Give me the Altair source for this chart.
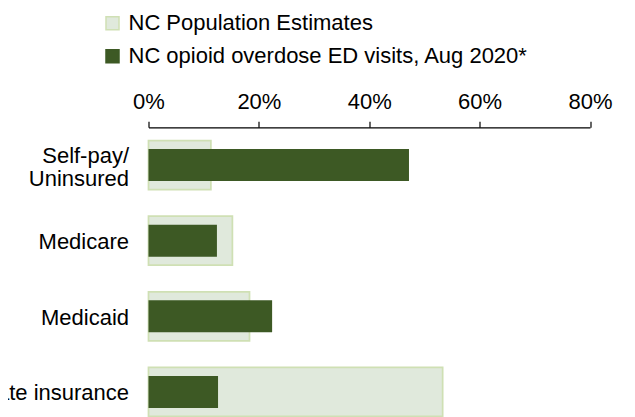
import altair as alt
import pandas as pd

categories = ["Self-pay/ Uninsured", "Medicare", "Medicaid", "Private insurance"]
pop_estimates = [11.3, 15.2, 18.3, 53.3]
ed_visits = [47.2, 12.4, 22.4, 12.6]
series_names = ["NC Population Estimates", "NC opioid overdose ED visits, Aug 2020*"]
tick_values = [0, 20, 40, 60, 80]

rows = []
for c, v in zip(categories, pop_estimates):
    rows.append({"category": c, "series": series_names[0], "value": v})
for c, v in zip(categories, ed_visits):
    rows.append({"category": c, "series": series_names[1], "value": v})
df = pd.DataFrame(rows)

FONT = "Liberation Sans"
LIGHT_FILL = "#e0e9dc"
LIGHT_STROKE = "#cfe0b4"
DARK = "#3d5924"

fill_scale = alt.Scale(domain=series_names, range=[LIGHT_FILL, DARK])
stroke_scale = alt.Scale(domain=series_names, range=[LIGHT_STROKE, DARK])

x_enc = alt.X(
    "value:Q",
    scale=alt.Scale(domain=[0, 80], nice=False),
    axis=alt.Axis(
        orient="top",
        values=tick_values,
        labelExpr="datum.value + '%'",
        title=None,
        grid=False,
        domainColor="black",
        domainWidth=1.2,
        tickColor="black",
        tickWidth=1.2,
        tickSize=6,
        labelFont=FONT,
        labelFontSize=22,
        labelColor="black",
        labelBaseline="alphabetic",
        labelPadding=13,
        labelFlush=False,
        labelOverlap=False,
    ),
)
y_enc = alt.Y(
    "category:N",
    sort=categories,
    scale=alt.Scale(range=[0, 302.4], paddingInner=0, paddingOuter=0),
    axis=alt.Axis(
        title=None,
        domain=False,
        ticks=False,
        grid=False,
        labelFont=FONT,
        labelFontSize=22,
        labelColor="black",
        labelAlign="right",
        labelPadding=20,
        labelLimit=400,
        labelLineHeight=23,
        labelOffset={"condition": {"test": "indexof(datum.label, 'Self') >= 0", "value": -9}, "value": 1.5},
        labelExpr="datum.label == 'Self-pay/ Uninsured' ? ['Self-pay/', 'Uninsured'] : datum.label",
    ),
)

legend = alt.Legend(
    title=None,
    orient="none",
    legendX=-47,
    legendY=-115,
    direction="vertical",
    symbolType="square",
    symbolSize=169,
    symbolStrokeWidth=1.5,
    labelFont=FONT,
    labelFontSize=22,
    labelColor="black",
    labelOffset=5,
    rowPadding=11,
    padding=0,
    labelLimit=500,
)

base = alt.Chart(df)

light = base.transform_filter(
    alt.datum.series == series_names[0]
).mark_bar(size=49, strokeWidth=1.75).encode(
    x=x_enc,
    y=y_enc,
    fill=alt.Fill("series:N", scale=fill_scale, legend=legend),
    stroke=alt.Stroke("series:N", scale=stroke_scale, legend=legend),
)

dark = base.transform_filter(
    alt.datum.series == series_names[1]
).mark_bar(size=32, strokeWidth=0).encode(
    x=x_enc,
    y=y_enc,
    fill=alt.Fill("series:N", scale=fill_scale, legend=legend),
    stroke=alt.Stroke("series:N", scale=stroke_scale, legend=legend),
)

chart = alt.layer(light, dark).properties(
    width=441.5,
    height=290,
    autosize=alt.AutoSizeParams(type="none"),
    padding={"left": 140.5, "top": 119.3, "right": 30, "bottom": 0},
    background="white",
).configure_view(stroke=None)

chart.save("out.html", embed_options={"renderer": "svg", "actions": False})
